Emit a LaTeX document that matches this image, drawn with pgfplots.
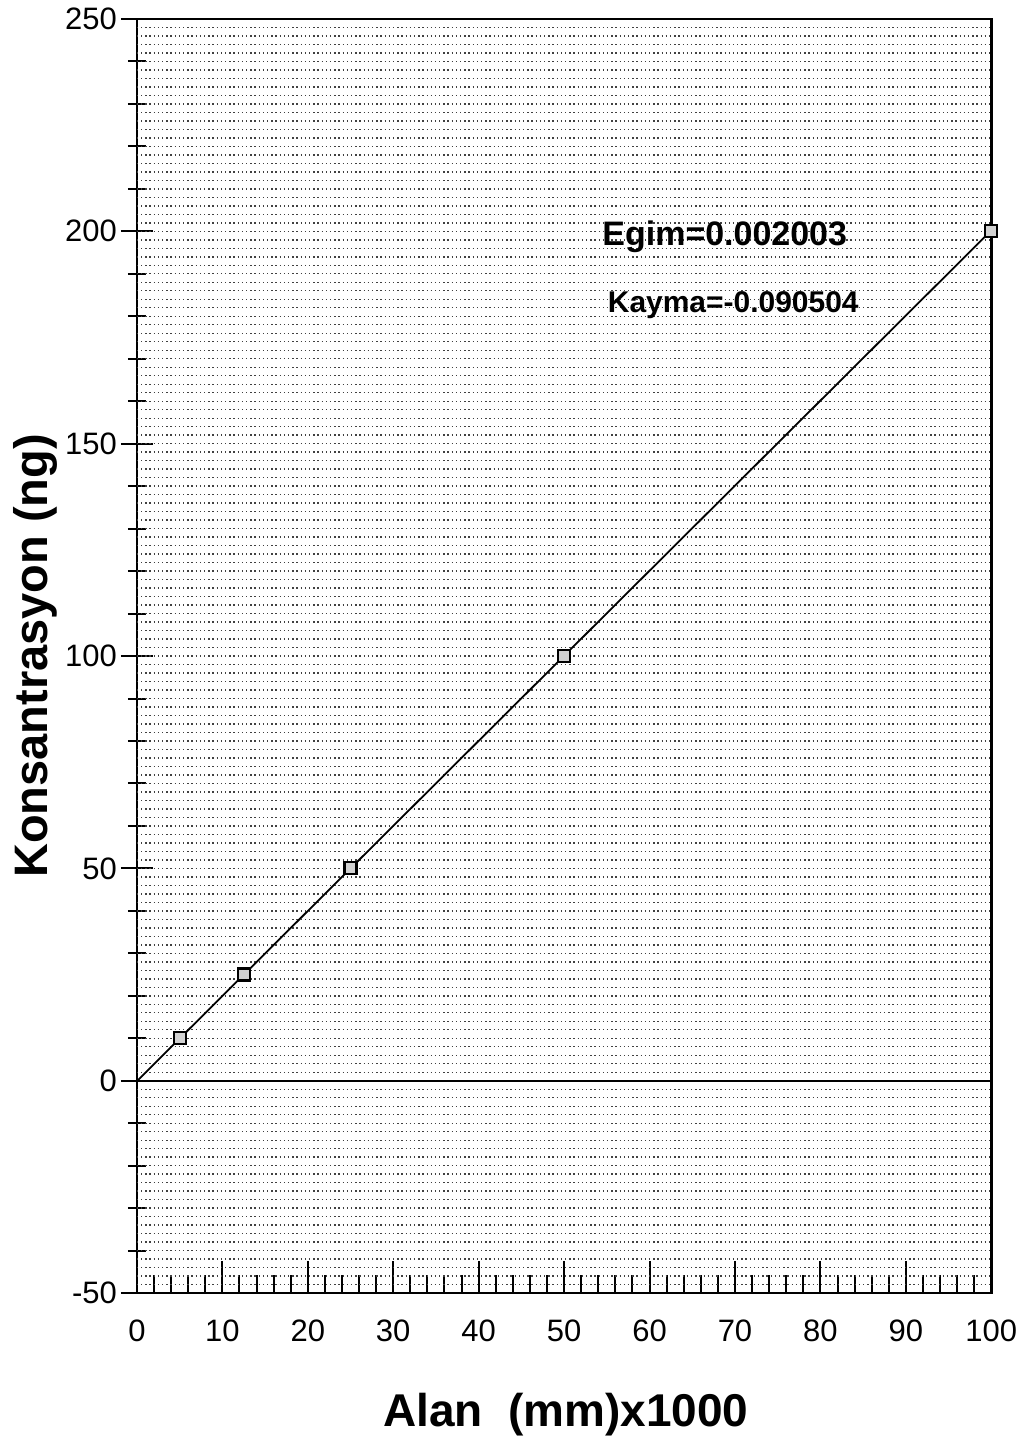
\documentclass[border=0pt]{standalone}
\usepackage{pgfplots}
\pgfplotsset{compat=1.18}
\usepackage{fontspec}
\setmainfont{Liberation Sans}
\begin{document}
\begin{tikzpicture}
\begin{axis}[
  scale only axis,
  width=427.5pt, height=637.5pt,
  xmin=0, xmax=100, ymin=-50, ymax=250,
  axis line style={line width=1.3pt},
  clip=false,
  xtick={0,10,...,100},
  minor xtick={2,4,...,98},
  ytick={-50,0,...,250},
  minor ytick={-40,-30,...,240},
  xtick pos=bottom, ytick pos=left,
  x tick style={line width=1pt, black},
  y tick style={line width=1pt, black},
  xtick align=inside,
  ytick align=center,
  major tick length=16pt,
  minor tick length=9pt,
  tick label style={font=\fontsize{15.5}{18}\selectfont},
  /pgf/number format/assume math mode=true,
  extra y ticks={-48,-46,...,248},
  extra y tick labels={},
  extra y tick style={grid=major, major tick length=0pt,
     major grid style={black!75, line width=0.7pt, dash pattern=on 0.7pt off 1.4pt}},
  xlabel={Alan\ \ (mm)x1000},
  ylabel={Konsantrasyon\ (ng)},
  xlabel style={at={(axis description cs:0.502,-0.0957)}, anchor=center, font=\bfseries\fontsize{23}{26}\selectfont},
  ylabel style={at={(axis description cs:-0.1193,0.5)}, anchor=center, font=\bfseries\fontsize{23.5}{26}\selectfont},
  yticklabel style={xshift=1.5pt},
  xticklabel style={yshift=-10pt},
]
\draw[black, line width=1.1pt] (axis cs:0,0) -- (axis cs:100,0);
\addplot[black, line width=0.9pt] coordinates {(0,-0.09) (100,200.21)};
\addplot[only marks, mark=square*, mark size=3pt, mark options={fill=gray!35, draw=black, line width=1.1pt}]
  coordinates {(5,10) (12.5,25) (25,50) (50,100) (100,200)};
\node[font=\bfseries\fontsize{17}{19}\selectfont, fill=none] at (axis cs:68.8,198.6) {Egim=0.002003};
\node[font=\bfseries\fontsize{15}{17}\selectfont] at (axis cs:69.8,182.6) {Kayma=-0.090504};
\end{axis}
\path (current axis.south west) ++(-68.5pt,-75.5pt) coordinate (bl);
\path (current axis.north east) ++(22pt,9.5pt) coordinate (tr);
\path (bl) rectangle (tr);
\end{tikzpicture}
\end{document}
